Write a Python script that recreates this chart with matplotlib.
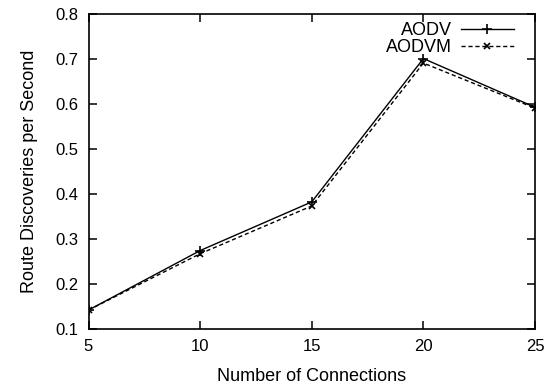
import matplotlib.pyplot as plt
import numpy as np

plt.rcParams['font.family'] = ['Liberation Sans', 'DejaVu Sans']

connections = [5, 10, 15, 20, 25]
aodv = [0.142, 0.274, 0.382, 0.700, 0.592]
aodvm = [0.142, 0.267, 0.373, 0.690, 0.590]

fig = plt.figure(figsize=(5.45, 3.86), dpi=100)
ax = fig.add_axes([0.1624, 0.1477, 0.8193, 0.8173])

ax.plot(connections, aodv, color='black', linewidth=1.0, linestyle='-',
        marker='+', markersize=7, markeredgewidth=1.2, label='AODV')
ax.plot(connections, aodvm, color='black', linewidth=1.0, linestyle=(0, (3, 2)),
        marker='x', markersize=5, markeredgewidth=1.2, label='AODVM')

ax.set_xlim(5, 25)
ax.set_ylim(0.1, 0.8)
ax.set_xticks(np.arange(5, 26, 5))
ax.set_yticks(np.arange(0.1, 0.81, 0.1))
ax.set_yticklabels(['%.1f' % v for v in np.arange(0.1, 0.81, 0.1)])

ax.tick_params(direction='in', length=6, width=1.1, top=True, right=True,
               labelsize=12)
ax.tick_params(axis='x', pad=7)
ax.tick_params(axis='y', pad=7)
for s in ax.spines.values():
    s.set_linewidth(1.2)

ax.set_xlabel('Number of Connections', fontsize=13, labelpad=10)
ax.set_ylabel('Route Discoveries per Second', fontsize=13, labelpad=13)

ax.legend(loc='upper right', frameon=False, markerfirst=False, fontsize=13,
          handlelength=2.9, handletextpad=0.5, labelspacing=-0.02,
          borderaxespad=0.0, borderpad=0.0, bbox_to_anchor=(0.952, 0.972))

fig.savefig('out.png', dpi=100)
